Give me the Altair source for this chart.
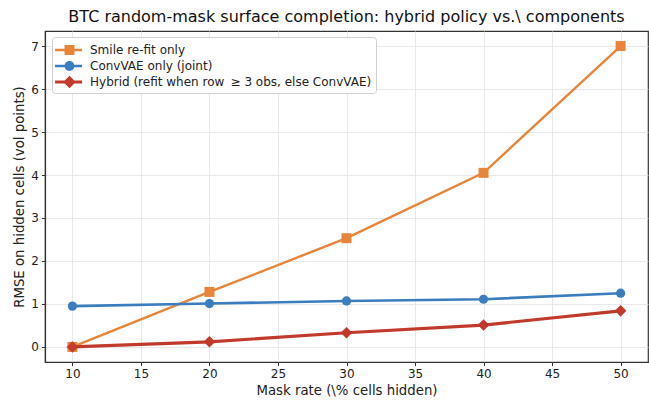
import altair as alt
import pandas as pd

mask_rate = [10, 20, 30, 40, 50]
smile_refit = [0.0, 1.28, 2.53, 4.05, 7.0]
convvae = [0.95, 1.01, 1.07, 1.11, 1.25]
hybrid = [0.0, 0.12, 0.33, 0.51, 0.84]

series_names = [
    "Smile re-fit only",
    "ConvVAE only (joint)",
    "Hybrid (refit when row \u2009\u2265 3 obs, else ConvVAE)",
]
colors = ["#e8853b", "#3b7dbf", "#c23a2c"]

rows = []
for name, vals in zip(series_names, [smile_refit, convvae, hybrid]):
    for x, v in zip(mask_rate, vals):
        rows.append({"mask": x, "rmse": v, "series": name})
df = pd.DataFrame(rows)

FONT = "DejaVu Sans"

xenc = alt.X("mask:Q", scale=alt.Scale(domain=[8, 52], nice=False, zero=False),
             axis=alt.Axis(values=[10, 15, 20, 25, 30, 35, 40, 45, 50],
                           title="Mask rate (\\% cells hidden)", format="d"))
yenc = alt.Y("rmse:Q", scale=alt.Scale(domain=[-0.35, 7.35], nice=False, zero=False),
             axis=alt.Axis(values=[0, 1, 2, 3, 4, 5, 6, 7],
                           title="RMSE on hidden cells (vol points)", format="d"))
color_scale = alt.Scale(domain=series_names, range=colors)

base = alt.Chart(df)

# legend-only layer (no marks drawn), with line-through-marker symbols
legend_paths = [
    "M-1.1,-0.13 H1.9 V0.13 H-1.1 Z M-0.05,-0.55 H1.05 V0.55 H-0.05 Z",
    "M-1.1,-0.13 H1.9 V0.13 H-1.1 Z M1.05,0 A0.55,0.55 0 1,1 -0.05,0 A0.55,0.55 0 1,1 1.05,0 Z",
    "M-1.1,-0.16 H1.9 V0.16 H-1.1 Z M0.5,-0.7 L1.2,0 L0.5,0.7 L-0.2,0 Z",
]
legend_layer = base.transform_filter("datum.rmse < -100").mark_point(filled=True, opacity=1).encode(
    x=xenc, y=yenc,
    color=alt.Color("series:N", scale=color_scale, legend=alt.Legend(title=None)),
    shape=alt.Shape("series:N", scale=alt.Scale(domain=series_names, range=legend_paths),
                    legend=alt.Legend(title=None)),
)

shapes = ["square", "circle", "diamond"]
sizes = [100, 85, 135]
widths = [2.4, 2.6, 3.2]
layers = [legend_layer]
for name, col, shp, sz, w in zip(series_names, colors, shapes, sizes, widths):
    sub = base.transform_filter(alt.datum.series == name)
    layers.append(sub.mark_line(color=col, strokeWidth=w).encode(x=xenc, y=yenc))
    layers.append(sub.mark_point(shape=shp, filled=True, opacity=1, size=sz, color=col)
                  .encode(x=xenc, y=yenc))

chart = alt.layer(*layers).properties(
    width=603, height=331,
    title=alt.Title("BTC random-mask surface completion: hybrid policy vs.\\ components",
                    font=FONT, fontSize=16, fontWeight="normal", color="#111111",
                    anchor="middle", offset=6),
    autosize=alt.AutoSizeParams(type="none"),
    padding={"left": 45, "top": 31, "right": 1, "bottom": 40},
).configure_view(
    stroke="#333333", strokeWidth=1.2
).configure_axis(
    labelFont=FONT, titleFont=FONT, labelFontSize=12, titleFontSize=13.3,
    titleFontWeight="normal", labelColor="#222222", titleColor="#222222",
    grid=True, gridColor="#e6e6e6", gridWidth=0.9,
    domainColor="#333333", domainWidth=1.2, tickColor="#333333",
    tickSize=3.5, labelPadding=3, titlePadding=4,
).configure_legend(
    orient="none", legendX=7, legendY=6,
    padding=4, rowPadding=1, labelFont=FONT, labelFontSize=12,
    labelColor="#222222", labelOffset=16, labelLimit=400,
    symbolSize=324, symbolStrokeWidth=0,
    fillColor="white", strokeColor="#d0d0d0", cornerRadius=3,
)

chart.save("out.html", embed_options={"renderer": "svg", "actions": False})
